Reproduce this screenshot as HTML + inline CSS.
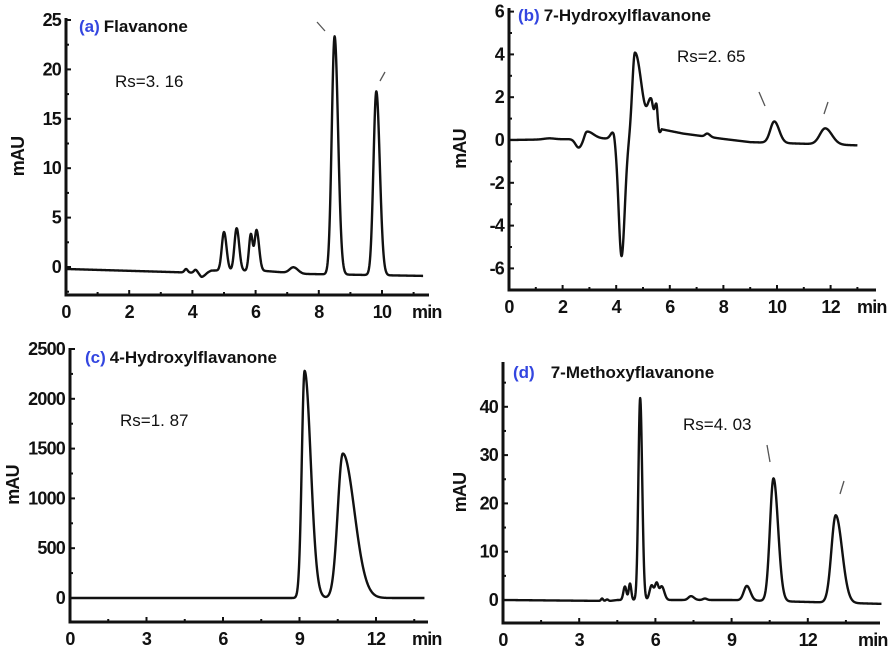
<!DOCTYPE html>
<html><head><meta charset="utf-8"><style>
body{margin:0;background:#fff;}
svg{display:block;font-family:"Liberation Sans",Arial,sans-serif;}
.tk{font-size:18px;font-weight:bold;fill:#111;letter-spacing:-0.8px;}
.ttl{font-size:17px;font-weight:bold;fill:#111;}
.lab{fill:#3346e0;}
.rs{font-size:17px;fill:#111;}
</style></head><body>
<svg id="fig" width="892" height="650" viewBox="0 0 892 650"></svg>
<script>
// ---- Data: peak tables (center min, height, left width, right width) and baselines ----
const aCenters=[3.8,4.1,4.3,5.0,5.4,5.85,6.03,7.2,8.5,9.82];
const aHeights=[0.35,0.3,-0.4,3.9,4.3,3.7,4.1,0.6,24.1,18.6];
const aWL=[0.05,0.05,0.06,0.07,0.07,0.06,0.06,0.12,0.09,0.09];
const aWR=[0.05,0.05,0.12,0.08,0.08,0.06,0.08,0.14,0.11,0.11];
const aBase=[[0,-0.2],[4.3,-0.6],[4.6,-0.35],[6.3,-0.4],[7.5,-0.7],[11.3,-0.9]];
const aXTicks=[0,2,4,6,8,10];
const aYTicks=[0,5,10,15,20,25];

const bCenters=[1.5,2.6,2.9,3.9,4.2,4.7,5.3,5.5,7.4,9.9,11.8];
const bHeights=[0.05,-0.4,0.35,0.35,-5.5,4.0,1.6,1.5,0.15,1.0,0.75];
const bWL=[0.2,0.12,0.08,0.1,0.11,0.1,0.12,0.07,0.08,0.15,0.2];
const bWR=[0.2,0.12,0.25,0.05,0.12,0.25,0.08,0.05,0.1,0.18,0.25];
const bBase=[[0,0],[5.55,0.1],[5.7,0.5],[6.5,0.3],[8,0.05],[9,-0.1],[13,-0.25]];
const bXTicks=[0,2,4,6,8,10,12];
const bYTicks=[-6,-4,-2,0,2,4,6];

const cCenters=[9.2,10.7];
const cHeights=[2280,1450];
const cWL=[0.11,0.2];
const cWR=[0.24,0.45];
const cBase=[[0,0],[13.9,0]];
const cXTicks=[0,3,6,9,12];
const cYTicks=[0,500,1000,1500,2000,2500];

const dCenters=[3.9,4.1,4.8,5.0,5.4,5.85,6.05,6.25,7.4,7.95,9.6,10.65,13.1];
const dHeights=[0.5,0.3,2.8,3.4,41.8,3.0,3.4,2.8,0.8,0.3,3.0,25.4,18.1];
const dWL=[0.04,0.05,0.06,0.05,0.07,0.08,0.07,0.08,0.1,0.08,0.12,0.14,0.17];
const dWR=[0.04,0.05,0.06,0.05,0.08,0.08,0.07,0.1,0.12,0.08,0.14,0.18,0.25];
const dBase=[[0,0],[4.2,-0.2],[4.5,0],[9,0],[14.9,-0.8]];
const dXTicks=[0,3,6,9,12];
const dYTicks=[0,10,20,30,40];

const NS="http://www.w3.org/2000/svg";
const svg=document.getElementById('fig');
function mk(tag,attrs,parent){const e=document.createElementNS(NS,tag);for(const k in attrs)e.setAttribute(k,attrs[k]);(parent||svg).appendChild(e);return e;}

function baseAt(base,t){
  for(let i=0;i<base.length-1;i++){if(t<=base[i+1][0]){const f=(t-base[i][0])/(base[i+1][0]-base[i][0]);return base[i][1]+f*(base[i+1][1]-base[i][1]);}}
  return base[base.length-1][1];
}
function signal(t,C,H,WL,WR,base){
  let v=baseAt(base,t);
  for(let i=0;i<C.length;i++){const w=t<C[i]?WL[i]:WR[i];const z=(t-C[i])/w;v+=H[i]*Math.exp(-0.5*z*z);}
  return v;
}

function panel(p){
  const g=mk('g',{});
  
  
  const X=v=>p.x0+(v-p.xa)*p.sx;
  const Y=v=>p.y0-(v)*p.sy;
  const ax=mk('path',{d:`M${p.axL},${p.axTop} V${p.axBot} H${p.axR}`,stroke:'#111','stroke-width':3,fill:'none'},g);
  
  
  const xs=p.xt;const xstep=xs[1]-xs[0];
  for(let v=xs[0];X(v)<=p.axR+0.5;v+=xstep/2){
    const major=Math.abs((v-xs[0])/xstep-Math.round((v-xs[0])/xstep))<1e-6;
    mk('line',{x1:X(v),x2:X(v),y1:p.axBot,y2:p.axBot-(major?5:3),stroke:'#111','stroke-width':2},g);
  }
  xs.forEach(v=>{const t=mk('text',{x:X(v),y:p.axBot+23,'text-anchor':'middle',class:'tk'},g);t.textContent=v;
    
    });
  const mt=mk('text',{x:p.minX,y:p.axBot+23,class:'tk'},g);mt.textContent='min';
  
  
  const ys=p.yt;const ystep=ys[1]-ys[0];
  for(let v=ys[0]-ystep*2;v<=ys[ys.length-1]+ystep;v+=ystep/2){
    const yy=Y(v);if(yy<p.axTop-0.5||yy>p.axBot-1)continue;
    const major=Math.abs((v-ys[0])/ystep-Math.round((v-ys[0])/ystep))<1e-6;
    mk('line',{x1:p.axL,x2:p.axL+(major?5:3),y1:yy,y2:yy,stroke:'#111','stroke-width':2},g);
  }
  ys.forEach(v=>{const t=mk('text',{x:p.axL-5,y:Y(v)+6,'text-anchor':'end',class:'tk'},g);t.textContent=v;
    
    });
  const yl=mk('text',{x:0,y:0,class:'tk',transform:`translate(${p.yLabX},${(p.axTop+p.axBot)/2}) rotate(-90)`,'text-anchor':'middle'},g);yl.textContent='mAU';
  
  
  let d='';
  for(let t=0;t<=p.tEnd;t+=0.01){d+=(t===0?'M':'L')+X(t).toFixed(2)+','+Y(signal(t,p.C,p.H,p.WL,p.WR,p.B)).toFixed(2);}
  const tr=mk('path',{d:d,stroke:'#111','stroke-width':2.4,fill:'none','stroke-linejoin':'round'},g);
  
  
  const tt=mk('text',{x:p.tx,y:p.ty,class:'ttl'},g);
  const s1=mk('tspan',{class:'lab'},tt);s1.textContent=p.lab;
  const s2=mk('tspan',{dx:p.gap},tt);s2.textContent=p.title;
  
  
  const rs=mk('text',{x:p.rx,y:p.ry,class:'rs'},g);rs.textContent=p.rs;
  
  
  (p.arrows||[]).forEach(a=>{const l=mk('path',{d:`M${a[0]},${a[1]} L${a[2]},${a[3]}`,stroke:'#555','stroke-width':1.3},g);
    
    });
}

panel({name:'panel-a-flavanone',x0:66,xa:0,sx:31.6,y0:267,sy:9.88,axL:66,axTop:18,axBot:295,axR:429,xt:aXTicks,yt:aYTicks,minX:412,yLabX:24,
  C:aCenters,H:aHeights,WL:aWL,WR:aWR,B:aBase,tEnd:11.3,tx:79,ty:32,lab:'(a)',gap:4,title:'Flavanone',rx:115,ry:87,rs:'Rs=3. 16',
  arrows:[[317,22,325,31],[385,72,380,81]]});
panel({name:'panel-b-7-hydroxyflavanone',x0:509,xa:0,sx:26.8,y0:140,sy:21.4,axL:509,axTop:8,axBot:290,axR:876,xt:bXTicks,yt:bYTicks,minX:857,yLabX:466,
  C:bCenters,H:bHeights,WL:bWL,WR:bWR,B:bBase,tEnd:13,tx:518,ty:21,lab:'(b)',gap:4,title:'7-Hydroxylflavanone',rx:677,ry:62,rs:'Rs=2. 65',
  arrows:[[759,92,765,106],[828,102,824,114]]});
panel({name:'panel-c-4-hydroxyflavanone',x0:70,xa:0,sx:25.5,y0:598,sy:0.0996,axL:70,axTop:348,axBot:622,axR:428,xt:cXTicks,yt:cYTicks,minX:412,yLabX:19,
  C:cCenters,H:cHeights,WL:cWL,WR:cWR,B:cBase,tEnd:13.9,tx:85,ty:363,lab:'(c)',gap:4,title:'4-Hydroxylflavanone',rx:120,ry:426,rs:'Rs=1. 87'});
panel({name:'panel-d-7-methoxyflavanone',x0:503,xa:0,sx:25.4,y0:600,sy:4.83,axL:503,axTop:362,axBot:623,axR:880,xt:dXTicks,yt:dYTicks,minX:858,yLabX:466,
  C:dCenters,H:dHeights,WL:dWL,WR:dWR,B:dBase,tEnd:14.9,tx:513,ty:378,lab:'(d)',gap:16,title:'7-Methoxyflavanone',rx:683,ry:430,rs:'Rs=4. 03',
  arrows:[[767,445,770,462],[844,481,840,494]]});
</script>
</body></html>
